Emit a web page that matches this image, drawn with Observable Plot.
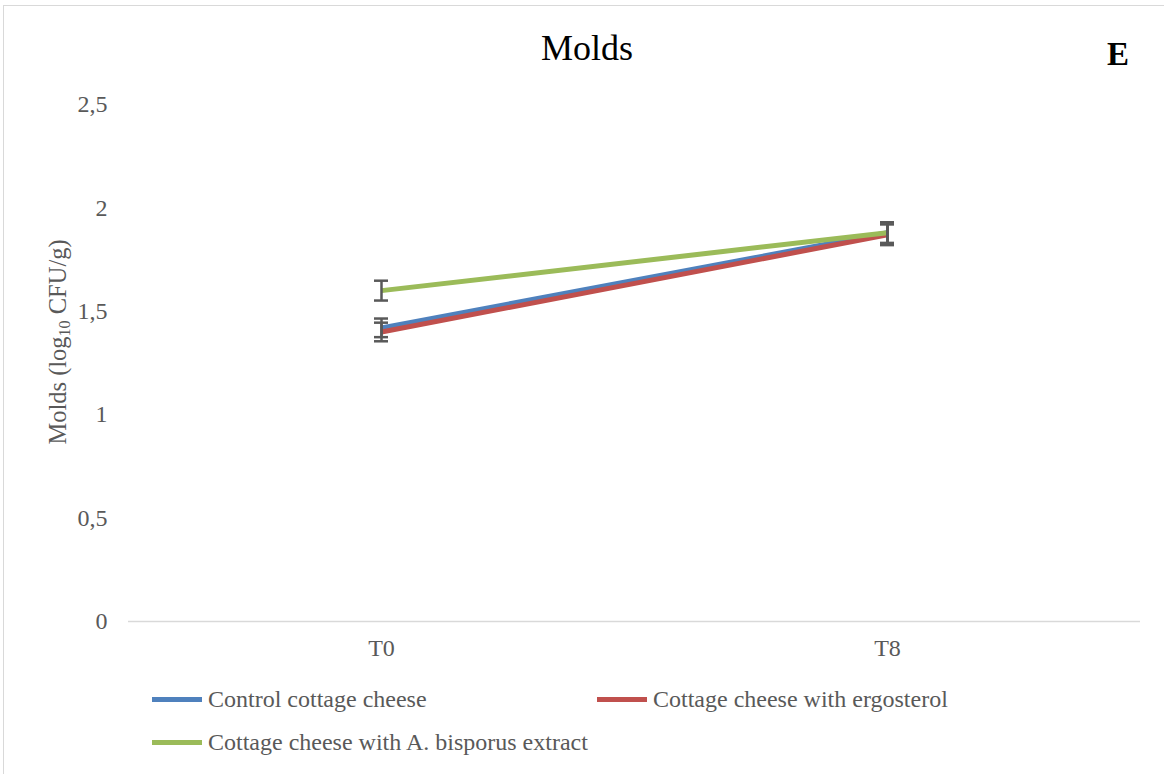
<!DOCTYPE html>
<html>
<head>
<meta charset="utf-8">
<script src="https://cdn.jsdelivr.net/npm/d3@7"></script>
<script src="https://cdn.jsdelivr.net/npm/@observablehq/plot@0.6"></script>
<style>
  html, body { margin: 0; padding: 0; background: #fff; }
  #wrap { position: relative; width: 1164px; height: 774px; overflow: hidden; font-family: "Liberation Serif", Tinos, "Noto Serif", "DejaVu Serif", "Times New Roman", serif; }
  #frame { position: absolute; left: 3px; top: 5px; width: 1170px; height: 800px; border-left: 1.5px solid #d9d9d9; border-top: 1.5px solid #d9d9d9; box-sizing: border-box; }
  #chart { position: absolute; left: 0; top: 0; }
  #title { position: absolute; left: 0; width: 1174px; top: 48px; line-height: 0; text-align: center; font-size: 36px; color: #000; }
  #letter { position: absolute; left: 1107px; top: 54px; line-height: 0; font-size: 33px; font-weight: bold; color: #000; }
  #ylabel { position: absolute; left: 58px; top: 342px; transform: translate(-50%, -50%) rotate(-90deg); white-space: nowrap; font-size: 24.5px; color: #595959; }
  #ylabel sub { font-size: 16px; vertical-align: -4px; line-height: 0; }
  .leg { position: absolute; display: flex; align-items: center; font-size: 24px; color: #595959; white-space: nowrap; }
  .sw { width: 50px; height: 5px; margin-right: 6px; }
</style>
</head>
<body>
<div id="wrap">
  <div id="frame"></div>
  <div id="chart"></div>
  <div id="title">Molds</div>
  <div id="letter">E</div>
  <div id="ylabel">Molds (log<sub>10</sub> CFU/g)</div>
  <div id="legend"></div>
</div>
<script>
const times = ["T0", "T8"];
const seriesNames = ["Control cottage cheese", "Cottage cheese with ergosterol", "Cottage cheese with A. bisporus extract"];
const seriesColors = ["#4F81BD", "#C0504D", "#9BBB59"];
const controlValues = [1.42, 1.88];
const ergosterolValues = [1.40, 1.87];
const extractValues = [1.60, 1.88];
const controlErr = [0.045, 0.05];
const ergosterolErr = [0.045, 0.05];
const extractErr = [0.048, 0.05];
const yTicks = [0, 0.5, 1, 1.5, 2, 2.5];

const valuesList = [controlValues, ergosterolValues, extractValues];
const errList = [controlErr, ergosterolErr, extractErr];
const rows = [];
seriesNames.forEach((s, i) => {
  times.forEach((t, j) => {
    rows.push({series: s, time: t, value: valuesList[i][j], err: errList[i][j], order: i});
  });
});

const chart = Plot.plot({
  width: 1164,
  height: 660,
  marginLeft: 128,
  marginRight: 24,
  marginTop: 104,
  marginBottom: 39,
  style: {fontFamily: "'Liberation Serif', Tinos, 'Noto Serif', 'DejaVu Serif', 'Times New Roman', serif", fontSize: "24px", color: "#595959", background: "transparent"},
  x: {type: "point", domain: times, padding: 0.5, label: null},
  y: {domain: [0, 2.5], ticks: yTicks, label: null},
  color: {domain: seriesNames, range: seriesColors},
  marks: [
    Plot.ruleY([0], {stroke: "#d9d9d9", strokeWidth: 1.5}),
    Plot.axisY({ticks: yTicks, tickSize: 0, tickPadding: 21, tickFormat: d => String(d).replace(".", ","), label: null, fill: "#595959"}),
    Plot.axisX({tickSize: 0, tickPadding: 17, label: null, fill: "#595959"}),
    ...seriesNames.map(s => Plot.line(rows.filter(r => r.series === s), {x: "time", y: "value", stroke: "series", strokeWidth: 5, strokeLinecap: "butt"})),
    Plot.ruleX(rows, {x: "time", y1: d => d.value - d.err, y2: d => d.value + d.err, stroke: "#595959", strokeWidth: 2.5}),
    Plot.ruleY(rows, {y: d => d.value - d.err, x1: "time", x2: "time", insetLeft: -7, insetRight: -7, stroke: "#595959", strokeWidth: 2.5}),
    Plot.ruleY(rows, {y: d => d.value + d.err, x1: "time", x2: "time", insetLeft: -7, insetRight: -7, stroke: "#595959", strokeWidth: 2.5})
  ]
});
document.getElementById("chart").appendChild(chart);

const legendPos = [[152, 701], [597, 701], [152, 744]];
const legend = document.getElementById("legend");
seriesNames.forEach((s, i) => {
  const d = document.createElement("div");
  d.className = "leg";
  d.style.left = legendPos[i][0] + "px";
  d.style.top = (legendPos[i][1] - 15) + "px";
  const sw = document.createElement("span");
  sw.className = "sw";
  sw.style.background = seriesColors[i];
  d.appendChild(sw);
  d.appendChild(document.createTextNode(s));
  legend.appendChild(d);
});
</script>
</body>
</html>
